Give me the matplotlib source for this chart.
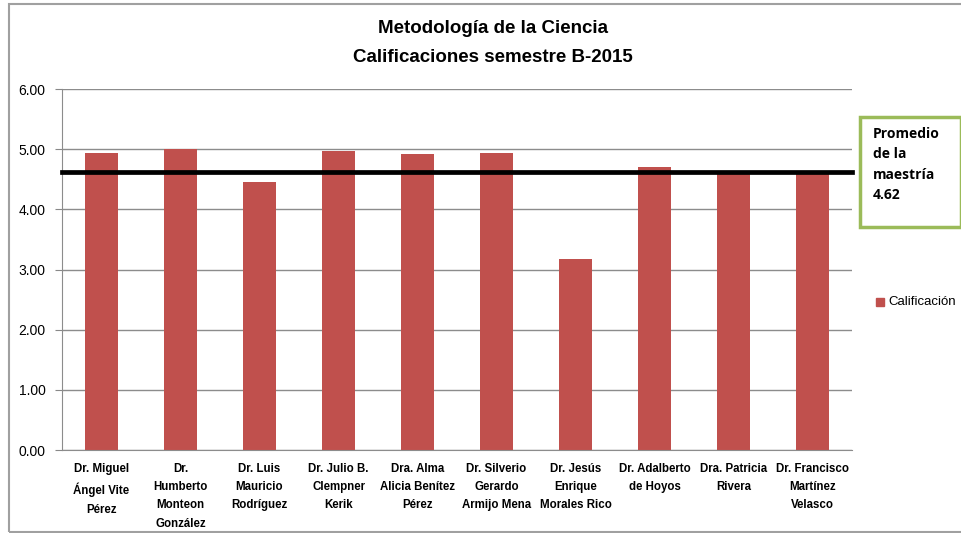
import matplotlib.pyplot as plt
import matplotlib.patches as mpatches
import numpy as np

profesores = [
    "Dr. Miguel\nÁngel Vite\nPérez",
    "Dr.\nHumberto\nMonteon\nGonzález",
    "Dr. Luis\nMauricio\nRodríguez",
    "Dr. Julio B.\nClempner\nKerik",
    "Dra. Alma\nAlicia Benítez\nPérez",
    "Dr. Silverio\nGerardo\nArmijo Mena",
    "Dr. Jesús\nEnrique\nMorales Rico",
    "Dr. Adalberto\nde Hoyos",
    "Dra. Patricia\nRivera",
    "Dr. Francisco\nMartínez\nVelasco",
]
calificacion = [4.93, 5.00, 4.46, 4.97, 4.92, 4.94, 3.17, 4.70, 4.60, 4.60]
promedio = 4.62
yticks = [0, 1, 2, 3, 4, 5, 6]

plt.rcParams['font.family'] = ['Liberation Sans', 'DejaVu Sans']

fig = plt.figure(figsize=(9.62, 5.33), dpi=100)
ax = fig.add_axes([0.0645, 0.1557, 0.8212, 0.6773])

x = np.arange(len(profesores))
ax.bar(x, calificacion, width=0.41, color='#C0504D', zorder=2, label='Calificación')
ax.axhline(promedio, color='black', lw=3.4, zorder=3, clip_on=False)

ax.set_xlim(-0.5, len(profesores) - 0.5)
ax.set_ylim(0, 6)
ax.set_yticks(yticks)
ax.set_yticklabels([f'{v:.2f}' for v in yticks], fontsize=10)
ax.set_xticks(x)
ax.set_xticklabels(profesores, fontsize=8.3, fontweight='bold', linespacing=1.72, va='top')
ax.tick_params(axis='x', length=0, pad=9)
ax.tick_params(axis='y', length=5, color='#888888', pad=7)
ax.grid(True, axis='y', color='#8c8c8c', lw=1, zorder=0)
for s in ['top', 'right']:
    ax.spines[s].set_visible(False)
for s in ['left', 'bottom']:
    ax.spines[s].set_color('#8c8c8c')

fig.text(0.512, 0.947, 'Metodología de la Ciencia', ha='center', va='center',
         fontsize=13.5, fontweight='bold')
fig.text(0.512, 0.893, 'Calificaciones semestre B-2015', ha='center', va='center',
         fontsize=13.5, fontweight='bold')

# cuadro del promedio
fig.patches.append(mpatches.Rectangle((860 / 962, 1 - 227 / 533), 101 / 962, 110 / 533,
                                      transform=fig.transFigure, fill=False,
                                      edgecolor='#9BBB59', lw=2.5))
fig.text(873 / 962, 1 - 164.5 / 533, 'Promedio\nde la\nmaestría\n4.62', ha='left', va='center',
         fontsize=10, fontweight='bold', linespacing=1.6,
         family=['Open Sans', 'DejaVu Sans'])

# leyenda
fig.patches.append(mpatches.Rectangle((876 / 962, 1 - 306 / 533), 8 / 962, 8 / 533,
                                      transform=fig.transFigure, color='#C0504D'))
fig.text(888 / 962, 1 - 302 / 533, 'Calificación', ha='left', va='center', fontsize=9.5)

# borde exterior
fig.patches.append(mpatches.Rectangle((9 / 962, 1 / 533), 1.0, 1 - 5 / 533,
                                      transform=fig.transFigure, fill=False,
                                      edgecolor='#a0a0a0', lw=1.5))

fig.savefig('out.png', dpi=100)
